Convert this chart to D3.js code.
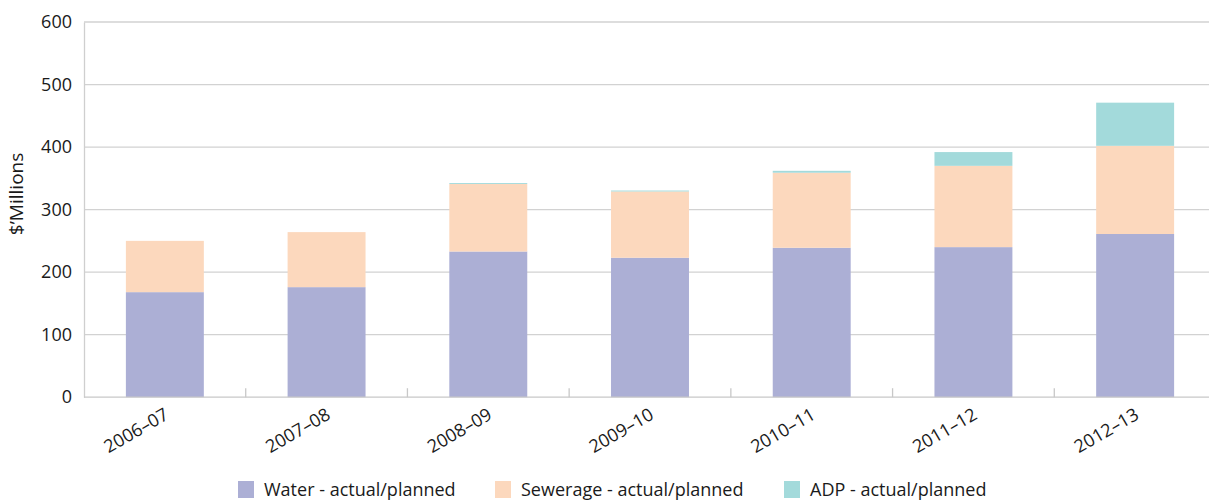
<!DOCTYPE html>
<html>
<head>
<meta charset="utf-8">
<script src="https://cdn.jsdelivr.net/npm/d3@7"></script>
<style>
  html, body { margin: 0; padding: 0; background: #fff; }
  svg { display: block; }
  svg text { font-family: "Open Sans", "Noto Sans", sans-serif; }
</style>
</head>
<body>
<svg id="chart" width="1209" height="502"></svg>
<script>
// Capital expenditure by financial year ($ millions)
const years = ["2006–07", "2007–08", "2008–09", "2009–10", "2010–11", "2011–12", "2012–13"];
const water = [168, 176, 233, 223, 239, 240, 261];
const sewerage = [82, 88, 108, 106, 120, 130, 141];
const adp = [0, 0, 1.5, 1.5, 3, 22, 69];
const seriesNames = ["Water - actual/planned", "Sewerage - actual/planned", "ADP - actual/planned"];
const seriesColors = ["#acafd5", "#fcd8bd", "#a3dadb"];
const yTicks = [0, 100, 200, 300, 400, 500, 600];

const FONT = "'Open Sans', 'Noto Sans', sans-serif";
const svg = d3.select("#chart");
const margin = { left: 84, top: 22, bottom: 104.8 };
const plotW = 1132;
const plotH = 502 - margin.top - margin.bottom;

const x = d3.scaleBand().domain(years).range([margin.left, margin.left + plotW])
  .paddingInner(0.518).paddingOuter(0.259);
const y = d3.scaleLinear().domain([0, 600]).range([margin.top + plotH, margin.top]);

// Horizontal gridlines
svg.append("g").selectAll("line").data(yTicks.slice(1)).join("line")
  .attr("x1", margin.left).attr("x2", 1209)
  .attr("y1", d => y(d)).attr("y2", d => y(d))
  .attr("stroke", "#d2d2d2").attr("stroke-width", 1.3);

// Y axis
const yAxis = svg.append("g").attr("transform", `translate(${margin.left},0)`)
  .call(d3.axisLeft(y).tickValues(yTicks).tickSize(0).tickPadding(12))
  .attr("font-family", FONT).attr("font-size", 18);
yAxis.select(".domain").attr("stroke", "#cfcfcf").attr("stroke-width", 1.3);
yAxis.selectAll("text").attr("fill", "#1a1a1a");

svg.append("text")
  .attr("transform", `translate(23,${y(325)}) rotate(-90)`)
  .attr("text-anchor", "middle")
  .attr("font-size", 19).attr("fill", "#1a1a1a")
  .text("$’Millions");

// Stacked bars
const rows = years.map((yr, i) => ({ year: yr, water: water[i], sewerage: sewerage[i], adp: adp[i] }));
const stack = d3.stack().keys(["water", "sewerage", "adp"])(rows);
svg.append("g").selectAll("g").data(stack).join("g")
  .attr("fill", (d, i) => seriesColors[i])
  .selectAll("rect").data(d => d).join("rect")
  .attr("x", d => x(d.data.year))
  .attr("width", x.bandwidth())
  .attr("y", d => y(d[1]))
  .attr("height", d => y(d[0]) - y(d[1]));

// X axis baseline and category separators
const base = y(0);
svg.append("line").attr("x1", margin.left).attr("x2", 1209)
  .attr("y1", base).attr("y2", base)
  .attr("stroke", "#c8c8c8").attr("stroke-width", 1.3);
const step = x.step();
const seps = years.slice(1).map((d, i) => margin.left + step * (i + 1));
svg.append("g").selectAll("line").data(seps).join("line")
  .attr("x1", d => d).attr("x2", d => d)
  .attr("y1", base).attr("y2", base - 9)
  .attr("stroke", "#c8c8c8").attr("stroke-width", 1.3);

// Rotated year labels
svg.append("g").selectAll("text").data(years).join("text")
  .attr("transform", d => `translate(${x(d) + x.bandwidth() / 2 + 5},${base + 21}) rotate(-30)`)
  .attr("text-anchor", "end")
  .attr("font-size", 18).attr("fill", "#1a1a1a")
  .text(d => d);

// Legend
const legendX = [238, 495, 784];
const legend = svg.append("g").selectAll("g").data(seriesNames).join("g")
  .attr("transform", (d, i) => `translate(${legendX[i]},481)`);
legend.append("rect").attr("width", 16).attr("height", 17)
  .attr("fill", (d, i) => seriesColors[i]);
legend.append("text").attr("x", 26).attr("y", 15)
  .attr("font-size", 18).attr("fill", "#1a1a1a")
  .text(d => d);
</script>
</body>
</html>
